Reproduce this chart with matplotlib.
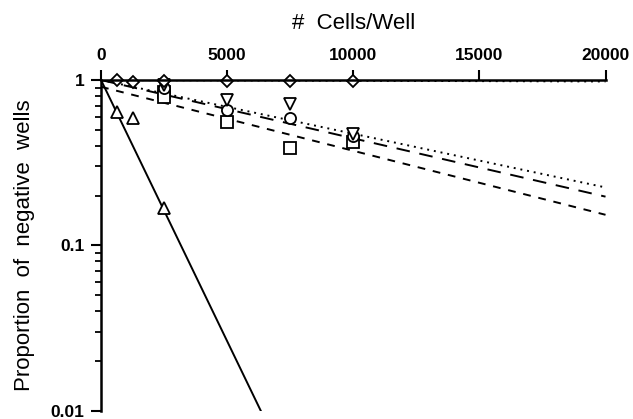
import numpy as np
import matplotlib.pyplot as plt
from matplotlib.ticker import LogLocator, NullFormatter

# cells per well for each group of observations
x_tri = [625, 1250, 2500]
y_tri = [0.64, 0.59, 0.168]

x_dia = [625, 1250, 2500, 5000, 7500, 10000]
y_dia = [1.0, 0.97, 0.99, 0.99, 0.98, 0.98]

x_circ = [2500, 5000, 7500, 10000]
y_circ = [0.90, 0.66, 0.59, 0.46]

x_down = [2500, 5000, 7500, 10000]
y_down = [0.93, 0.76, 0.72, 0.47]

x_sq = [2500, 2500, 5000, 7500, 10000]
y_sq = [0.85, 0.79, 0.56, 0.39, 0.42]

# fitted lines (x values and proportions)
solid_x = [0, 6330]
solid_y = [1.0, 0.01]
fit_x = [0, 20000]
fit_dotted_flat = [1.0, 0.98]
fit_dotted = [1.0, 0.224]
fit_longdash = [1.0, 0.197]
fit_shortdash = [0.91, 0.153]

fig = plt.figure(figsize=(6.33, 4.19), dpi=100)
ax = fig.add_axes([0.1596, 0.02, 0.797, 0.789])

kw = dict(color="black", lw=1.4)
ax.plot(solid_x, solid_y, ls="-", **kw)
ax.plot(fit_x, fit_dotted_flat, ls=(0, (1, 2.5)), **kw)
ax.plot(fit_x, fit_dotted, ls=(0, (1, 2.5)), **kw)
ax.plot(fit_x, fit_longdash, ls=(0, (7, 5)), **kw)
ax.plot(fit_x, fit_shortdash, ls=(0, (4, 4)), **kw)

mk = dict(ls="none", mfc="white", mec="black", mew=1.3, ms=8, clip_on=False)
ax.plot(x_tri, y_tri, marker="^", **mk)
ax.plot(x_sq, y_sq, marker="s", **mk)
ax.plot(x_circ, y_circ, marker="o", **mk)
ax.plot(x_down, y_down, marker="v", **mk)
ax.plot(x_dia, y_dia, marker="D", **dict(mk, ms=6.5))

ax.set_yscale("log")
ax.set_xlim(0, 20000)
ax.set_ylim(0.01, 1)

ax.xaxis.tick_top()
ax.xaxis.set_label_position("top")
ax.set_xticks([0, 5000, 10000, 15000, 20000])
ax.set_yticks([0.01, 0.1, 1])
ax.set_yticklabels(["0.01", "0.1", "1"])
ax.yaxis.set_minor_locator(LogLocator(base=10, subs=np.arange(2, 10)))
ax.yaxis.set_minor_formatter(NullFormatter())

for s in ["right", "bottom"]:
    ax.spines[s].set_visible(False)
for s in ["top", "left"]:
    ax.spines[s].set_linewidth(1.8)

ax.tick_params(axis="both", which="major", direction="out", length=7, width=1.5,
               labelsize=12.5, pad=5)
ax.tick_params(axis="y", which="minor", direction="out", length=4, width=1.3)
for t in ax.get_xticklabels() + ax.get_yticklabels():
    t.set_fontweight("bold")
    t.set_family("Liberation Sans")

ax.set_xlabel("#  Cells/Well", fontsize=16, family="Liberation Sans", labelpad=14)
ax.set_ylabel("Proportion  of  negative  wells", fontsize=16,
              family="Liberation Sans", labelpad=11)

fig.savefig("out.png", dpi=100)
